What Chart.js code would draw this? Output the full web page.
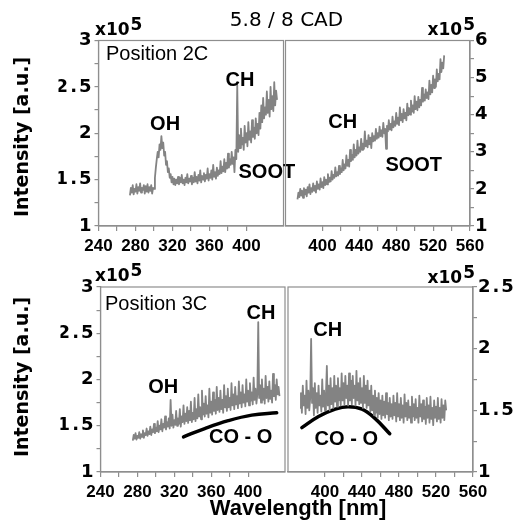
<!DOCTYPE html>
<html><head><meta charset="utf-8">
<script src="https://cdn.jsdelivr.net/npm/chart.js@4.4.1/dist/chart.umd.min.js"></script>
<style>
html,body{margin:0;padding:0;background:#fff;}
#wrap{position:relative;width:517px;height:532px;overflow:hidden;}
#wrap canvas{position:absolute;left:0;top:0;}
</style>
</head><body>
<div id="wrap">
<canvas id="cTL" width="517" height="532"></canvas>
<canvas id="cTR" width="517" height="532"></canvas>
<canvas id="cBL" width="517" height="532"></canvas>
<canvas id="cBR" width="517" height="532"></canvas>
</div>
<script>
// ---------------- DATA ----------------
const chartTitle = '5.8 / 8 CAD';
const yTitle = 'Intensity [a.u.]';
const xTitle = 'Wavelength [nm]';
const multiplierBase = 'x10';
const multiplierExp = '5';
const panelNames = ['Position 2C', 'Position 3C'];

// x-axis ranges (nm) of the broken axis and labelled-tick ranges
const leftRange = [240, 440];
const rightRange = [360, 560];
const leftTickRange = [240, 400];
const rightTickRange = [400, 560];
// y ranges (x10^5)
const yRangeTL = [1, 3];
const yRangeTR = [1, 6];
const yRangeBL = [1, 3];
const yRangeBR = [1, 2.5];

// Position 2C, short-wavelength spectrometer [nm, intensity x10^5]
const spec2CLeft = [
 [274,1.33],[275,1.41],[276,1.36],[277,1.44],[278,1.34],[279,1.40],[280,1.37],[281,1.45],[282,1.35],[283,1.42],
 [284,1.38],[285,1.46],[286,1.36],[287,1.41],[288,1.39],[289,1.44],[290,1.35],[291,1.43],[292,1.37],[293,1.45],
 [294,1.36],[295,1.42],[296,1.38],[297,1.44],[298,1.35],[299,1.41],[300,1.40],[301,1.52],[302,1.63],[303,1.72],
 [304,1.80],[305,1.74],[306,1.88],[307,1.82],[308,1.97],[309,1.84],[310,1.90],[311,1.76],[312,1.80],[313,1.66],
 [314,1.70],[315,1.58],[316,1.62],[317,1.52],[318,1.56],[319,1.47],[320,1.53],[321,1.45],[322,1.51],[323,1.44],
 [324,1.50],[325,1.46],[326,1.53],[327,1.45],[328,1.52],[329,1.47],[330,1.55],[331,1.46],[332,1.50],[333,1.44],
 [334,1.52],[335,1.47],[336,1.56],[337,1.46],[338,1.51],[339,1.48],[340,1.54],[341,1.45],[342,1.52],[343,1.47],
 [344,1.58],[345,1.48],[346,1.53],[347,1.46],[348,1.55],[349,1.49],[350,1.60],[351,1.47],[352,1.54],[353,1.50],
 [354,1.57],[355,1.48],[356,1.55],[357,1.51],[358,1.62],[359,1.49],[360,1.56],[361,1.52],[362,1.60],[363,1.50],
 [364,1.66],[365,1.53],[366,1.58],[367,1.51],[368,1.63],[369,1.54],[370,1.60],[371,1.56],[372,1.70],[373,1.57],
 [374,1.64],[375,1.59],[376,1.72],[377,1.58],[378,1.68],[379,1.62],[380,1.78],[381,1.63],[382,1.72],[383,1.66],
 [384,1.80],[385,1.67],[386,1.74],[387,1.58],[388,1.82],[389,1.72],[390,2.52],[391,1.80],[392,1.98],[393,1.84],
 [394,2.05],[395,1.88],[396,1.95],[397,1.82],[398,2.08],[399,1.90],[400,2.00],[401,1.86],[402,2.12],[403,1.93],
 [404,2.02],[405,1.90],[406,2.14],[407,1.96],[408,2.06],[409,1.94],[410,2.16],[411,2.00],[412,2.10],[413,1.98],
 [414,2.22],[415,2.05],[416,2.30],[417,2.12],[418,2.38],[419,2.16],[420,2.28],[421,2.20],[422,2.45],[423,2.22],
 [424,2.36],[425,2.18],[426,2.50],[427,2.26],[428,2.40],[429,2.24],[430,2.55],[431,2.30],[432,2.46],[433,2.36]
];
// Position 2C, long-wavelength spectrometer
const spec2CRight = [
 [373,1.72],[374,1.90],[375,1.78],[376,2.00],[377,1.82],[378,1.95],[379,1.76],[380,2.02],[381,1.85],[382,1.98],
 [383,1.80],[384,2.05],[385,1.90],[386,2.12],[387,1.86],[388,2.02],[389,1.92],[390,2.15],[391,1.95],[392,2.08],
 [393,1.90],[394,2.20],[395,2.00],[396,2.12],[397,1.98],[398,2.28],[399,2.05],[400,2.18],[401,2.02],[402,2.32],
 [403,2.10],[404,2.25],[405,2.12],[406,2.40],[407,2.18],[408,2.30],[409,2.20],[410,2.48],[411,2.25],[412,2.38],
 [413,2.30],[414,2.58],[415,2.34],[416,2.45],[417,2.36],[418,2.62],[419,2.40],[420,2.55],[421,2.45],[422,2.78],
 [423,2.50],[424,2.66],[425,2.55],[426,2.90],[427,2.62],[428,2.78],[429,2.60],[430,3.05],[431,2.75],[432,2.92],
 [433,2.78],[434,3.20],[435,2.85],[436,3.05],[437,2.90],[438,3.30],[439,2.95],[440,3.12],[441,3.00],[442,3.35],
 [443,3.05],[444,3.22],[445,3.08],[446,3.55],[447,3.15],[448,3.30],[449,3.12],[450,3.45],[451,3.20],[452,3.38],
 [453,3.10],[454,3.50],[455,3.28],[456,3.42],[457,3.30],[458,3.62],[459,3.35],[460,3.50],[461,3.38],[462,3.68],
 [463,3.42],[464,3.58],[465,3.40],[466,3.78],[467,3.50],[468,3.62],[469,3.08],[470,3.70],[471,3.55],[472,3.85],
 [473,3.60],[474,3.75],[475,3.58],[476,3.95],[477,3.66],[478,3.82],[479,3.70],[480,4.05],[481,3.75],[482,3.92],
 [483,3.72],[484,4.20],[485,3.85],[486,4.02],[487,3.80],[488,4.15],[489,3.90],[490,4.05],[491,3.85],[492,4.30],
 [493,3.98],[494,4.18],[495,4.00],[496,4.38],[497,4.08],[498,4.25],[499,4.05],[500,4.50],[501,4.15],[502,4.35],
 [503,4.12],[504,4.48],[505,4.20],[506,4.40],[507,4.25],[508,4.72],[509,4.35],[510,4.55],[511,4.38],[512,4.68],
 [513,4.45],[514,4.60],[515,4.42],[516,4.92],[517,4.55],[518,4.80],[519,4.60],[520,5.05],[521,4.72],[522,4.95],
 [523,4.75],[524,5.22],[525,4.90],[526,5.10],[527,4.95],[528,5.50],[529,5.15],[530,5.40],[531,5.25],[532,5.60]
];
// Position 3C, short-wavelength spectrometer
const spec3CLeft = [
 [275,1.34],[276,1.40],[277,1.36],[278,1.42],[279,1.35],[280,1.39],[281,1.37],[282,1.43],[283,1.36],[284,1.41],
 [285,1.38],[286,1.45],[287,1.37],[288,1.42],[289,1.40],[290,1.47],[291,1.39],[292,1.44],[293,1.41],[294,1.49],
 [295,1.40],[296,1.46],[297,1.43],[298,1.52],[299,1.42],[300,1.48],[301,1.44],[302,1.55],[303,1.43],[304,1.50],
 [305,1.46],[306,1.57],[307,1.44],[308,1.52],[309,1.48],[310,1.60],[311,1.46],[312,1.54],[313,1.49],[314,1.58],
 [315,1.47],[316,1.78],[317,1.50],[318,1.62],[319,1.48],[320,1.56],[321,1.51],[322,1.66],[323,1.50],[324,1.58],
 [325,1.52],[326,1.68],[327,1.49],[328,1.60],[329,1.54],[330,1.72],[331,1.52],[332,1.63],[333,1.55],[334,1.70],
 [335,1.53],[336,1.66],[337,1.56],[338,1.76],[339,1.54],[340,1.64],[341,1.57],[342,1.80],[343,1.55],[344,1.68],
 [345,1.58],[346,1.84],[347,1.60],[348,1.70],[349,1.57],[350,1.88],[351,1.62],[352,1.74],[353,1.60],[354,1.82],
 [355,1.63],[356,1.72],[357,1.59],[358,1.90],[359,1.64],[360,1.76],[361,1.62],[362,1.86],[363,1.66],[364,1.78],
 [365,1.63],[366,1.92],[367,1.67],[368,1.80],[369,1.65],[370,1.88],[371,1.68],[372,1.78],[373,1.64],[374,1.94],
 [375,1.70],[376,1.82],[377,1.66],[378,1.90],[379,1.70],[380,1.80],[381,1.67],[382,1.96],[383,1.72],[384,1.84],
 [385,1.68],[386,1.92],[387,1.73],[388,1.82],[389,1.69],[390,1.98],[391,1.74],[392,1.86],[393,1.70],[394,1.94],
 [395,1.75],[396,1.84],[397,1.71],[398,2.00],[399,1.76],[400,1.88],[401,1.72],[402,1.96],[403,1.77],[404,1.86],
 [405,1.73],[406,2.02],[407,1.78],[408,1.90],[409,1.74],[410,1.84],[411,2.62],[412,1.80],[413,1.94],[414,1.75],
 [415,2.00],[416,1.78],[417,1.90],[418,1.74],[419,2.04],[420,1.80],[421,1.92],[422,1.76],[423,1.98],[424,1.79],
 [425,1.88],[426,1.75],[427,2.06],[428,1.82],[429,1.94],[430,1.78],[431,2.00],[432,1.84],[433,1.92],[434,1.82]
];
// Position 3C, long-wavelength spectrometer
const spec3CRight = [
 [373,1.52],[374,1.64],[375,1.48],[376,1.70],[377,1.54],[378,1.62],[379,1.47],[380,1.74],[381,1.52],[382,1.66],
 [383,1.50],[384,1.60],[385,2.08],[386,1.56],[387,1.68],[388,1.46],[389,1.72],[390,1.52],[391,1.64],[392,1.48],
 [393,1.70],[394,1.54],[395,1.62],[396,1.49],[397,1.75],[398,1.53],[399,1.66],[400,1.50],[401,1.62],[402,1.86],
 [403,1.54],[404,1.70],[405,1.50],[406,1.76],[407,1.55],[408,1.68],[409,1.52],[410,1.78],[411,1.57],[412,1.70],
 [413,1.53],[414,1.76],[415,1.58],[416,1.68],[417,1.54],[418,1.80],[419,1.58],[420,1.72],[421,1.55],[422,1.78],
 [423,1.60],[424,1.70],[425,1.54],[426,1.80],[427,1.58],[428,1.74],[429,1.55],[430,1.78],[431,1.60],[432,1.70],
 [433,1.54],[434,1.82],[435,1.58],[436,1.72],[437,1.55],[438,1.76],[439,1.56],[440,1.68],[441,1.52],[442,1.78],
 [443,1.56],[444,1.70],[445,1.52],[446,1.74],[447,1.54],[448,1.66],[449,1.49],[450,1.70],[451,1.50],[452,1.62],
 [453,1.46],[454,1.66],[455,1.48],[456,1.60],[457,1.44],[458,1.64],[459,1.47],[460,1.58],[461,1.43],[462,1.62],
 [463,1.46],[464,1.57],[465,1.44],[466,1.64],[467,1.47],[468,1.56],[469,1.42],[470,1.60],[471,1.45],[472,1.55],
 [473,1.43],[474,1.62],[475,1.46],[476,1.56],[477,1.41],[478,1.64],[479,1.45],[480,1.55],[481,1.42],[482,1.60],
 [483,1.44],[484,1.54],[485,1.40],[486,1.63],[487,1.45],[488,1.56],[489,1.42],[490,1.58],[491,1.44],[492,1.53],
 [493,1.40],[494,1.61],[495,1.45],[496,1.55],[497,1.42],[498,1.59],[499,1.44],[500,1.52],[501,1.40],[502,1.62],
 [503,1.45],[504,1.55],[505,1.41],[506,1.58],[507,1.43],[508,1.53],[509,1.39],[510,1.60],[511,1.44],[512,1.54],
 [513,1.40],[514,1.61],[515,1.43],[516,1.52],[517,1.38],[518,1.58],[519,1.44],[520,1.53],[521,1.41],[522,1.60],
 [523,1.43],[524,1.52],[525,1.40],[526,1.59],[527,1.44],[528,1.54],[529,1.42],[530,1.58],[531,1.50]
];
// CO - O continuum guide curves
const coO3CLeft = [[330,1.38],[353,1.47],[378.5,1.555],[404,1.615],[431,1.64]];
const coO3CRight = [[375,1.36],[393,1.45],[411,1.51],[425,1.53],[440,1.51],[454,1.435],[470,1.31]];

// band labels [text, nm, intensity]
const labels2CLeft = [['OH',312,2.09],['CH',393,2.57],['SOOT',422,1.58]];
const labels2CRight = [['CH',422,3.80],['SOOT',499,2.62]];
const labels3CLeft = [['OH',308,1.91],['CH',414,2.71],['CO - O',392,1.37]];
const labels3CRight = [['CH',403,2.15],['CO - O',423,1.26]];

// ---------------- STYLE / LAYOUT ----------------
const GRAY = '#8e8e8e';
const SPEC = '#838383';
const W = 517, H = 532;
const AXW = 40, AXH = 30;
const boxes = {
  TL:{l:98.5,r:283.5,t:40.5,b:226},
  TR:{l:285.5,r:470,t:40.5,b:226},
  BL:{l:100.5,r:285,t:287,b:472},
  BR:{l:288,r:473,t:287,b:472}
};
const FX = {family:'"Liberation Sans",Arial,sans-serif', weight:'bold', size:17};
const FY = {family:'"DejaVu Sans",sans-serif', weight:'bold', size:18};
const annFont = 'bold 20px "Liberation Sans", Arial, sans-serif';

const pts = arr => arr.map(p => ({x:p[0], y:p[1]}));
const isMult = (v, m) => Math.abs(v/m - Math.round(v/m)) < 1e-6;

const spacingPlugin = {
  id:'spacing',
  beforeDraw(c){ c.ctx.letterSpacing = '2px'; },
  beforeDatasetsDraw(c){ c.ctx.letterSpacing = '0px'; }
};
const framePlugin = {
  id:'frame',
  afterDraw(c){
    const a = c.chartArea, ctx = c.ctx;
    ctx.save(); ctx.strokeStyle = GRAY; ctx.lineWidth = 1.2;
    ctx.strokeRect(a.left, a.top, a.right - a.left, a.bottom - a.top);
    ctx.restore();
  }
};
function textPlugin(items, extra){
  return {
    id:'txt',
    afterDraw(c){
      const ctx = c.ctx, xs = c.scales.x, ys = c.scales.y;
      ctx.save(); ctx.letterSpacing = '0px';
      ctx.fillStyle = '#000'; ctx.textBaseline = 'middle'; ctx.textAlign = 'center';
      ctx.font = annFont;
      items.forEach(it => ctx.fillText(it[0], xs.getPixelForValue(it[1]), ys.getPixelForValue(it[2])));
      if (extra) extra(ctx, c);
      ctx.restore();
    }
  };
}
function drawMult(ctx, x, y, alignRight){
  ctx.font = 'bold 17px "DejaVu Sans", sans-serif';
  ctx.textAlign = 'left';
  const w1 = ctx.measureText(multiplierBase).width;
  const w2 = ctx.measureText(multiplierExp).width;
  const x0 = alignRight ? x - w1 - w2 - 1 : x;
  ctx.fillText(multiplierBase, x0, y);
  ctx.fillText(multiplierExp, x0 + w1 + 1, y - 5);
}

function makeChart(id, box, xr, tickR, yr, ySide, yStep, yLabelStep, datasets, items, extra){
  const pad = {top: box.t, bottom: H - box.b - AXH};
  if (ySide === 'left') { pad.left = box.l - AXW; pad.right = W - box.r; }
  else { pad.left = box.l; pad.right = W - box.r - AXW; }
  return new Chart(document.getElementById(id), {
    type:'line',
    data:{datasets},
    options:{
      responsive:false, animation:false, events:[],
      layout:{padding:pad, autoPadding:false},
      plugins:{legend:{display:false}, tooltip:{enabled:false}},
      scales:{
        x:{type:'linear', min:xr[0], max:xr[1],
          afterBuildTicks:s => { s.ticks = s.ticks.filter(t => t.value >= tickR[0] - 1e-6 && t.value <= tickR[1] + 1e-6); },
          afterFit:s => { s.height = AXH; },
          ticks:{stepSize:20, autoSkip:false, maxRotation:0, padding:5, z:1, color:'#000', font:FX,
            callback:v => isMult(v,40) ? String(v) : ''},
          grid:{drawOnChartArea:false, drawTicks:true, tickLength:5, color:GRAY, lineWidth:1.2},
          border:{display:true, color:GRAY, width:1.2}
        },
        y:{type:'linear', position:ySide, min:yr[0], max:yr[1],
          afterFit:s => { s.width = AXW; },
          ticks:{stepSize:yStep, autoSkip:false, padding:1, color:'#000', font:FY,
            callback:v => isMult(v,yLabelStep) ? String(Math.round(v*100)/100) : ''},
          grid:{drawOnChartArea:false, drawTicks:true, tickLength:4, color:GRAY, lineWidth:1.2},
          border:{display:true, color:GRAY, width:1.2}
        }
      }
    },
    plugins:[spacingPlugin, framePlugin, textPlugin(items, extra)]
  });
}
const specDs = arr => ({data:pts(arr), borderColor:SPEC, borderWidth:1.8, pointRadius:0, tension:0, fill:false, borderJoinStyle:'round'});
const curveDs = arr => ({data:pts(arr), borderColor:'#000', borderWidth:3.5, pointRadius:0, tension:0.4, fill:false, borderCapStyle:'round'});
const posFont = '20px "Liberation Sans", Arial, sans-serif';

makeChart('cTL', boxes.TL, leftRange, leftTickRange, yRangeTL, 'left', 0.25, 0.5,
  [specDs(spec2CLeft)], labels2CLeft, (ctx) => {
    ctx.font = posFont; ctx.textAlign = 'left'; ctx.fillText(panelNames[0], 106, 54);
    drawMult(ctx, 95, 31, false);
  });
makeChart('cTR', boxes.TR, rightRange, rightTickRange, yRangeTR, 'right', 0.5, 1,
  [specDs(spec2CRight)], labels2CRight, (ctx) => { drawMult(ctx, 475, 31, true); });
makeChart('cBL', boxes.BL, leftRange, leftTickRange, yRangeBL, 'left', 0.25, 0.5,
  [specDs(spec3CLeft), curveDs(coO3CLeft)], labels3CLeft, (ctx) => {
    ctx.font = posFont; ctx.textAlign = 'left'; ctx.fillText(panelNames[1], 105, 304);
    drawMult(ctx, 95, 277, false);
  });
makeChart('cBR', boxes.BR, rightRange, rightTickRange, yRangeBR, 'right', 0.25, 0.5,
  [specDs(spec3CRight), curveDs(coO3CRight)], labels3CRight, (ctx) => {
    drawMult(ctx, 475, 279, true);
    // figure-level texts
    ctx.textAlign = 'center';
    ctx.font = '20px "DejaVu Sans", sans-serif';
    ctx.fillText(chartTitle, 286.5, 21);
    ctx.font = 'bold 22px "Liberation Sans", Arial, sans-serif';
    ctx.fillText(xTitle, 298, 509);
    ctx.font = 'bold 19px "DejaVu Sans", sans-serif';
    [137, 377].forEach(cy => {
      ctx.save(); ctx.translate(23, cy); ctx.rotate(-Math.PI/2);
      ctx.fillText(yTitle, 0, 0); ctx.restore();
    });
  });
</script>
</body></html>
